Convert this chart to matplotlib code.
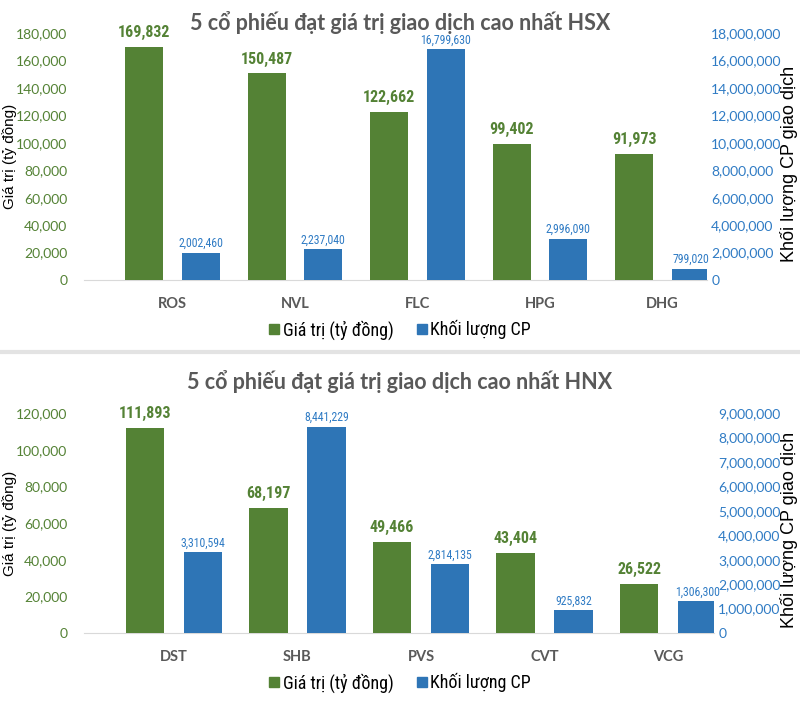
import numpy as np
import matplotlib.pyplot as plt
from matplotlib.patches import Patch
from matplotlib.lines import Line2D

# ==============================
# Data
# ==============================
hsx_codes = ["ROS", "NVL", "FLC", "HPG", "DHG"]
hsx_value = [169832, 150487, 122662, 99402, 91973]
hsx_volume = [2002460, 2237040, 16799630, 2996090, 799020]

hnx_codes = ["DST", "SHB", "PVS", "CVT", "VCG"]
hnx_value = [111893, 68197, 49466, 43404, 26522]
hnx_volume = [3310594, 8441229, 2814135, 925832, 1306300]

GREEN = "#548235"
BLUE = "#2E75B6"
TICK_BLUE = "#2F7BC4"
GRAY = "#595959"

NARROW = ['Roboto Condensed', 'Liberation Sans Narrow', 'Roboto', 'DejaVu Sans']
CALIBRI = ['Lato', 'DejaVu Sans']
ARIAL = ['Liberation Sans', 'DejaVu Sans']


def panel(fig, rect, title, codes, value, volume, vmax, vstep, qmax, qstep,
          xlim, off, title_y, legend_y):
    ax = fig.add_axes(rect)
    ax2 = ax.twinx()
    x = np.arange(len(codes))
    w = 0.31
    ax.bar(x - off, value, w, color=GREEN, zorder=3)
    ax2.bar(x + off, volume, w, color=BLUE, zorder=3)

    for xi, v in zip(x, value):
        ax.annotate(f"{v:,}", (xi - off, v), xytext=(0, 5), textcoords="offset points",
                    ha="center", va="bottom", color=GREEN, fontsize=11.5,
                    fontweight="bold", family=NARROW)
    for xi, q in zip(x, volume):
        ax2.annotate(f"{q:,}", (xi + off, q), xytext=(0, 2), textcoords="offset points",
                     ha="center", va="bottom", color=TICK_BLUE, fontsize=8.5, family=NARROW)

    ax.set_xlim(*xlim)
    ax.set_ylim(0, vmax)
    ax2.set_ylim(0, qmax)
    ax.set_yticks(np.arange(0, vmax + 1, vstep))
    ax2.set_yticks(np.arange(0, qmax + 1, qstep))
    ax.set_yticklabels([f"{int(t):,}" for t in ax.get_yticks()], color=GREEN,
                       fontsize=10, family=CALIBRI)
    ax2.set_yticklabels([f"{int(t):,}" for t in ax2.get_yticks()], color=TICK_BLUE,
                        fontsize=10, family=CALIBRI)
    ax.set_xticks(x)
    ax.set_xticklabels(codes, color=GRAY, fontsize=10.5, fontweight="bold", family=CALIBRI)
    ax.tick_params(axis="both", length=0)
    ax.tick_params(axis="x", pad=12)
    ax.tick_params(axis="y", pad=12)
    ax2.tick_params(axis="y", length=0, pad=3)
    for a in (ax, ax2):
        for s in a.spines.values():
            s.set_visible(False)
    ax.spines["bottom"].set_visible(True)
    ax.spines["bottom"].set_color("#D9D9D9")
    ax.set_ylabel("Giá trị (tỷ đồng)", fontsize=11, family=ARIAL)
    ax2.set_ylabel("Khối lượng CP giao dịch", fontsize=13, family=ARIAL)
    # place axis titles in pixels from the axes edges
    w_px = rect[2] * 800
    ax.yaxis.set_label_coords(-(84 - 17) / w_px, 0.5)
    ax2.yaxis.set_label_coords((780 - 84) / w_px, 0.47)

    fig.text(0.5, title_y, title, ha="center", va="center", color=GRAY, fontsize=15.5,
             fontweight="bold", family=CALIBRI)
    handles = [Patch(color=GREEN), Patch(color=BLUE)]
    fig.legend(handles, ["Giá trị (tỷ đồng)", "Khối lượng CP"], loc="center",
               bbox_to_anchor=(0.5, legend_y), ncol=2, frameon=False,
               prop={"family": NARROW, "size": 13},
               handlelength=0.55, handleheight=0.55, handletextpad=0.2, columnspacing=1.3)
    return ax


fig = plt.figure(figsize=(8, 7.24), dpi=100)

panel(fig, [84 / 800, 1 - 280 / 724, 623 / 800, 247 / 724],
      "5 cổ phiếu đạt giá trị giao dịch cao nhất HSX",
      hsx_codes, hsx_value, hsx_volume, 180000, 20000, 18000000, 2000000,
      (-0.722, 4.363), 0.23, 1 - 23 / 724, 1 - 330 / 724)

panel(fig, [84 / 800, 1 - 633 / 724, 630 / 800, 220 / 724],
      "5 cổ phiếu đạt giá trị giao dịch cao nhất HNX",
      hnx_codes, hnx_value, hnx_volume, 120000, 20000, 9000000, 1000000,
      (-0.729, 4.372), 0.235, 1 - 382 / 724, 1 - 683 / 724)

# separator between the two charts
fig.add_artist(Line2D([0, 1], [1 - 352 / 724] * 2, color="#E3E3E3", lw=3, transform=fig.transFigure))

fig.savefig("out.png", dpi=100)
